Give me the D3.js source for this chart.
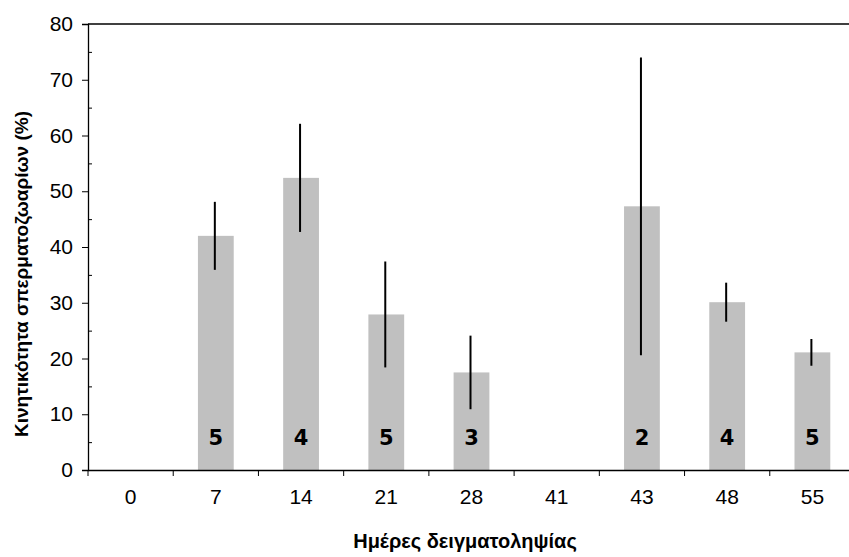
<!DOCTYPE html>
<html>
<head>
<meta charset="utf-8">
<script src="https://cdn.jsdelivr.net/npm/d3@7"></script>
<style>
  body { margin: 0; background: #fff; }
  svg { display: block; }
</style>
</head>
<body>
<svg id="chart"></svg>
<script>
// sampling days, mean motility (%), error (±), number of samples
const days = ['0', '7', '14', '21', '28', '41', '43', '48', '55'];
const motility = [null, 42, 52.4, 27.9, 17.5, null, 47.3, 30.1, 21.1];
const errors = [null, 6.1, 9.7, 9.5, 6.6, null, 26.7, 3.5, 2.4];
const counts = [null, 5, 4, 5, 3, null, 2, 4, 5];
const yTicks = [0, 10, 20, 30, 40, 50, 60, 70, 80];
const yMinorTicks = [5, 15, 25, 35, 45, 55, 65, 75];

const W = 849, H = 557;
const margin = { top: 24, right: -6, bottom: 87, left: 88 };

const svg = d3.select('#chart')
    .attr('width', W)
    .attr('height', H);

// scales
const x = d3.scaleBand().domain(days).range([margin.left, W - margin.right]).padding(0);
const y = d3.scaleLinear().domain([0, 80]).range([H - margin.bottom, margin.top]);
const barW = x.bandwidth() * 0.42;

const rows = days.map((d, i) => ({ day: d, v: motility[i], e: errors[i], n: counts[i] }))
    .filter(r => r.v !== null);

// bars
svg.append('g').selectAll('rect')
    .data(rows)
    .enter()
    .append('rect')
    .attr('x', d => x(d.day) + x.bandwidth() / 2 - barW / 2)
    .attr('y', d => y(d.v))
    .attr('width', barW)
    .attr('height', d => y(0) - y(d.v))
    .attr('fill', '#c0c0c0');

// error bars (plain vertical lines, no caps)
svg.append('g').selectAll('line')
    .data(rows)
    .enter()
    .append('line')
    .attr('x1', d => x(d.day) + x.bandwidth() / 2 - 1)
    .attr('x2', d => x(d.day) + x.bandwidth() / 2 - 1)
    .attr('y1', d => y(d.v + d.e))
    .attr('y2', d => y(d.v - d.e))
    .attr('stroke', '#000')
    .attr('stroke-width', 2);

// sample counts inside the bars
svg.append('g').selectAll('text')
    .data(rows)
    .enter()
    .append('text')
    .attr('x', d => x(d.day) + x.bandwidth() / 2)
    .attr('y', y(0) - 25)
    .attr('text-anchor', 'middle')
    .style('font-family', '"DejaVu Sans", Verdana, sans-serif')
    .style('font-weight', 'bold')
    .style('font-size', '21px')
    .text(d => d.n);

// top frame line
svg.append('line')
    .attr('x1', margin.left).attr('x2', W)
    .attr('y1', y(80)).attr('y2', y(80))
    .attr('stroke', '#000').attr('stroke-width', 1.3);

// y axis
const yAxis = d3.axisLeft(y).tickValues(yTicks).tickSize(6).tickPadding(9);
svg.append('g')
    .attr('transform', `translate(${margin.left},0)`)
    .call(yAxis)
    .call(g => g.selectAll('text')
        .style('font-family', '"Liberation Sans", Arial, sans-serif')
        .style('font-size', '21px')
        .attr('fill', '#000'));

// y minor ticks (inside)
const yMinor = d3.axisLeft(y).tickValues(yMinorTicks).tickSize(-4).tickFormat('');
svg.append('g')
    .attr('transform', `translate(${margin.left},0)`)
    .call(yMinor)
    .call(g => g.select('.domain').remove());

// x axis with ticks on band boundaries
const xAxis = d3.axisBottom(x).tickSize(0).tickPadding(19);
const gx = svg.append('g')
    .attr('transform', `translate(0,${y(0)})`)
    .call(xAxis);
gx.selectAll('text')
    .style('font-family', '"Liberation Sans", Arial, sans-serif')
    .style('font-size', '21px')
    .attr('fill', '#000');
gx.append('g').selectAll('line')
    .data(days)
    .enter()
    .append('line')
    .attr('x1', d => x(d))
    .attr('x2', d => x(d))
    .attr('y1', 0)
    .attr('y2', 6)
    .attr('stroke', '#000');

svg.selectAll('.domain').attr('stroke', '#000').attr('stroke-width', 1.3);

// axis titles
svg.append('text')
    .attr('x', 465)
    .attr('y', 548)
    .attr('text-anchor', 'middle')
    .style('font-family', '"Liberation Sans", Arial, sans-serif')
    .style('font-weight', 'bold')
    .style('font-size', '20px')
    .text('Ημέρες δειγματοληψίας');

svg.append('text')
    .attr('transform', 'translate(28,274) rotate(-90)')
    .attr('text-anchor', 'middle')
    .style('font-family', '"Liberation Sans", Arial, sans-serif')
    .style('font-weight', 'bold')
    .style('font-size', '19px')
    .text('Κινητικότητα σπερματοζωαρίων (%)');
</script>
</body>
</html>
